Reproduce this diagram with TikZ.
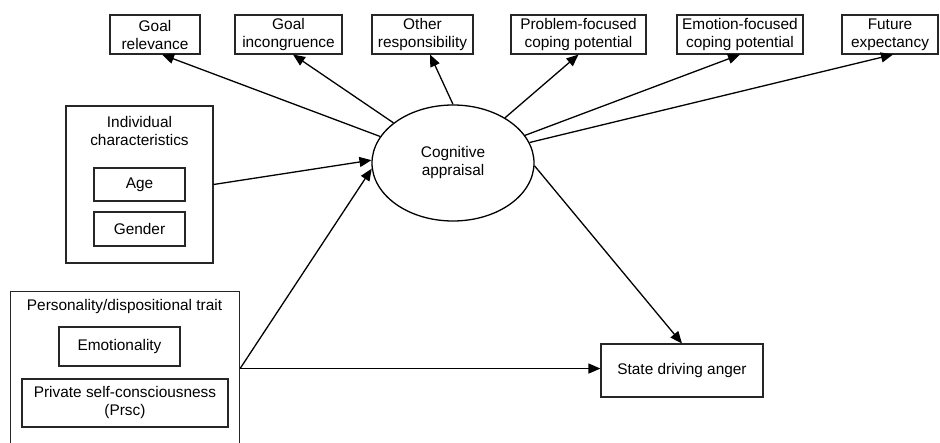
\documentclass[tikz,border=0pt]{standalone}
\usepackage{fontspec}
\setmainfont{Liberation Sans}
\usetikzlibrary{arrows.meta,shapes.geometric}
\begin{document}
\begin{tikzpicture}[x=1pt,y=-1pt, font=\fontsize{15.4}{18}\selectfont,
 box/.style={draw=black!85, line width=1.1pt, align=center, inner sep=0pt},
 arr/.style={line width=1.3pt, -{Triangle[length=12pt,width=10pt]}},
 ln/.style={line width=1.3pt}]
\useasboundingbox (0,0) rectangle (940,442);
\clip (0,0) rectangle (940,442);
% top boxes
\node[box, minimum width=90pt, minimum height=39pt] (gr) at (155,34.5) {Goal\\relevance};
\node[box, minimum width=107pt, minimum height=39pt] (gi) at (288.5,34.5) {Goal\\incongruence};
\node[box, minimum width=101pt, minimum height=39pt] (or) at (422.5,34.5) {Other\\responsibility};
\node[box, minimum width=135pt, minimum height=39pt] (pf) at (578.5,34.5) {Problem-focused\\coping potential};
\node[box, minimum width=126pt, minimum height=39pt] (ef) at (740,34.5) {Emotion-focused\\coping potential};
\node[box, minimum width=96pt, minimum height=39pt] (fe) at (890,34.5) {Future\\expectancy};
% ellipse
\node[draw, ellipse, line width=1.3pt, minimum width=162pt, minimum height=116pt, align=center, inner sep=0pt] (cog) at (453,163) {Cognitive\\appraisal};
% individual characteristics
\node[box, minimum width=147pt, minimum height=157pt] (ind) at (139.5,184.5) {};
\node[align=center, inner sep=0pt] (indt) at (139.5,131) {Individual\\characteristics};
\node[box, minimum width=91pt, minimum height=33pt] (age) at (139.5,184.5) {Age};
\node[box, minimum width=91pt, minimum height=34pt] (gen) at (139.5,229) {Gender};
% personality
\node[box, minimum width=229pt, minimum height=154pt, anchor=north west] (pers) at (10,291) {};
\node[inner sep=0pt] (perst) at (124.5,307) {Personality/dispositional trait};
\node[box, minimum width=121pt, minimum height=39pt] (emo) at (119.5,346.5) {Emotionality};
\node[box, minimum width=206pt, minimum height=48pt] (prsc) at (125,403) {Private self-consciousness\\(Prsc)};
% state
\node[box, minimum width=162pt, minimum height=53pt] (st) at (682,370.5) {State driving anger};
% connectors
\draw[arr] (cog.160) -- ([xshift=7pt]gr.south);
\draw[arr] (cog.146) -- ([xshift=4.5pt]gi.south);
\draw[arr] (cog.90) -- ([xshift=7.5pt]or.south);
\draw[arr] (cog.41) -- (pf.south);
\draw[arr] (cog.21) -- (ef.south);
\draw[arr] (cog.15) -- ([xshift=3pt]fe.south);
\draw[arr] (ind.east) -- (cog.178);
\draw[arr] (pers.east) -- (cog.184);
\draw[arr] (pers.east) -- (pers.east -| st.west);
\draw[arr] (cog.-2) -- (st.north);
\end{tikzpicture}
\end{document}
